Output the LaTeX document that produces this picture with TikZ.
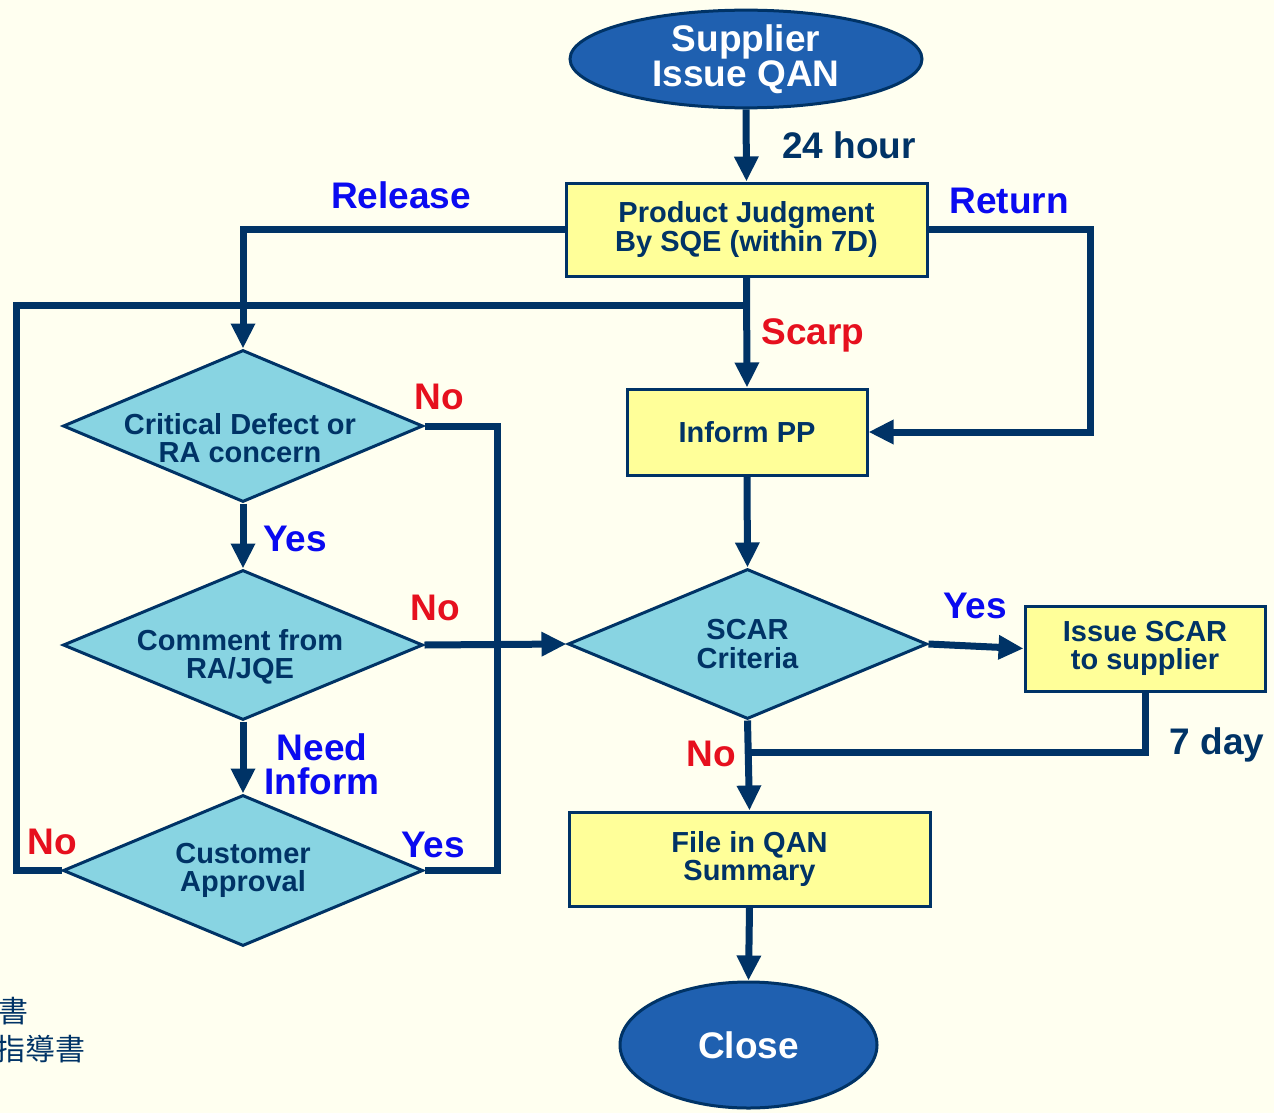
\documentclass[tikz,border=0pt]{standalone}
\usepackage{fontspec}
\setmainfont{Liberation Sans}
\newfontfamily\cjk{Noto Sans CJK TC}
\usetikzlibrary{shapes.geometric,arrows.meta}
\definecolor{bgcol}{HTML}{FFFFF0}
\definecolor{navy}{HTML}{003366}
\definecolor{boxfill}{HTML}{FFFF99}
\definecolor{dfill}{HTML}{88D4E2}
\definecolor{efill}{HTML}{1F60B0}
\definecolor{lblue}{HTML}{0A0AF0}
\definecolor{lred}{HTML}{E6101E}
\tikzset{
  shapefont/.style={font=\bfseries\fontsize{29}{28.5}\selectfont, text=navy, align=center},
  procbox/.style={rectangle, draw=navy, line width=3pt, fill=boxfill, inner sep=0pt, shapefont},
  decision/.style={diamond, draw=navy, line width=3pt, fill=dfill, inner sep=0pt, aspect=2.37},
  terminal/.style={ellipse, draw=navy, line width=3pt, fill=efill, inner sep=0pt,
    font=\bfseries\fontsize{37}{37}\selectfont, text=white, align=center},
  conn/.style={draw=navy, line width=7pt},
  flow/.style={conn, -{Triangle[width=23pt,length=25pt]}},
  lab/.style={font=\bfseries\fontsize{37}{37}\selectfont, align=center},
  notefont/.style={text=navy, font=\cjk\fontsize{30}{30}\selectfont, inner sep=0pt, anchor=east},
}
\begin{document}
\begin{tikzpicture}[x=1pt,y=-1pt]
\useasboundingbox (0,0) rectangle (1274,1113);
\fill[bgcol] (0,0) rectangle (1274,1113);

% shapes
\node[terminal, minimum width=352pt, minimum height=96pt] (sup) at (746,59) {Supplier\\[-2pt]Issue QAN};
\node[procbox, minimum width=361pt, minimum height=93pt] (pj) at (746.5,229.5) {Product Judgment\\By SQE (within 7D)};
\node[procbox, minimum width=240pt, minimum height=86pt] (ipp) at (747,432) {Inform PP};
\node[decision, minimum width=360pt, minimum height=152pt] (d1) at (243,426) {};
\node[shapefont] (d1t) at (240,438) {Critical Defect or\\RA concern};
\node[decision, minimum width=360pt, minimum height=150pt] (d2) at (243,645) {};
\node[shapefont] (d2t) at (240,657) {Comment from\\RA/JQE};
\node[decision, minimum width=360pt, minimum height=151pt, shapefont] (d3) at (243,870.5) {Customer\\Approval};
\node[decision, minimum width=359pt, minimum height=150pt, shapefont] (scar) at (747.5,644) {SCAR\\Criteria};
\node[procbox, minimum width=240pt, minimum height=85pt] (iscar) at (1145,648.5) {Issue SCAR\\to supplier};
\node[procbox, minimum width=361pt, minimum height=94pt] (file) at (749.5,859) {File in QAN\\Summary};
\node[terminal, minimum width=257pt, minimum height=126pt] (close) at (748.5,1045) {Close};

% junction points
\coordinate (relC) at (243,229.5);
\coordinate (retA) at (1090,229.5);
\coordinate (loopA) at (16,870.5);
\coordinate (loopB) at (16,305);
\coordinate (loopC) at (746.5,305);
\coordinate (busA) at (497,426);
\coordinate (busB) at (497,870.5);
\coordinate (sevenJ) at (747.5,752);

% connectors
\draw[flow] (sup.south) -- (pj.north);
\draw[flow] (pj.west) -- (relC) -- (d1.north);
\draw[flow] (pj.east) -- (retA) |- (ipp.east);
\draw[flow] (pj.south) -- (ipp.north);
\draw[conn] (d3.west) -- (loopA) -- (loopB) -- (loopC);
\draw[conn] (d1.east) -- (busA) -- (busB) -- (d3.east);
\draw[flow] (d1.south) -- (d2.north);
\draw[flow] (d2.south) -- (d3.north);
\draw[flow] (d2.east) -- (scar.west);
\draw[flow] (ipp.south) -- (scar.north);
\draw[flow] (scar.east) -- (iscar.west);
\draw[conn] (iscar.south) |- (sevenJ);
\draw[flow] (scar.south) -- (file.north);
\draw[flow] (file.south) -- (close.north);

% labels
\node[lab, text=navy] (l24) at (849,145) {24 hour};
\node[lab, text=lblue] (lrel) at (401,195) {Release};
\node[lab, text=lblue] (lret) at (1009,201) {Return};
\node[lab, text=lred] (lscarp) at (813,335) {Scarp};
\node[lab, text=lred] (lno1) at (439,397) {No};
\node[lab, text=lblue] (lyes1) at (295,539) {Yes};
\node[lab, text=lred] (lno2) at (435,608) {No};
\node[lab, text=lblue] (lneed) at (322,764) {Need\\[-3pt]Inform};
\node[lab, text=lred] (lno3) at (52,842) {No};
\node[lab, text=lblue] (lyes3) at (433,845) {Yes};
\node[lab, text=lblue] (lyes2) at (975,606) {Yes};
\node[lab, text=lred] (lno4) at (711,754) {No};
\node[lab, text=navy] (l7) at (1217,745) {7 day};

% side note at the lower left edge
\node[notefont] (cj1) at (29,1011) {書};
\node[notefont] (cj2) at (86,1049) {指導書};
\end{tikzpicture}
\end{document}
